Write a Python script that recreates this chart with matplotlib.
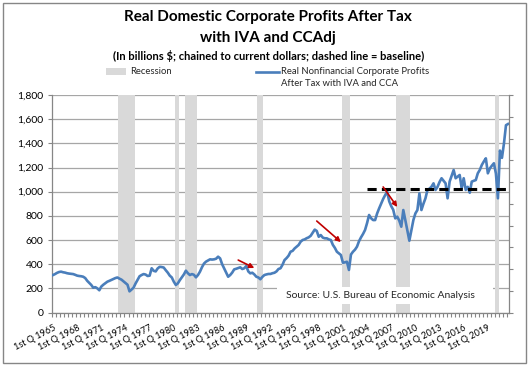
import numpy as np
import matplotlib
matplotlib.use("Agg")
import matplotlib.pyplot as plt
from matplotlib.patches import Rectangle
from matplotlib.lines import Line2D

plt.rcParams['font.family'] = ['Lato', 'DejaVu Sans']

# quarterly data, 1965 Q1 .. 2021 Q3 (billions $, chained)
start_year = 1965
profits = [
    310, 318, 328, 335,      # 1965
    338, 333, 330, 325,      # 1966
    322, 320, 318, 312,      # 1967
    305, 302, 300, 296,      # 1968
    285, 262, 245, 228,      # 1969
    205, 210, 200, 184,      # 1970
    215, 230, 242, 255,      # 1971
    262, 270, 278, 285,      # 1972
    290, 280, 272, 258,      # 1973
    245, 230, 175, 190,      # 1974
    205, 240, 270, 300,      # 1975
    310, 318, 314, 302,      # 1976
    305, 366, 345, 340,      # 1977
    365, 378, 376, 372,      # 1978
    350, 330, 305, 290,      # 1979
    255, 228, 241, 268,      # 1980
    291, 315, 346, 325,      # 1981
    310, 318, 312, 291,      # 1982
    310, 338, 375, 405,      # 1983
    421, 430, 440, 438,      # 1984
    440, 445, 462, 448,      # 1985
    400, 366, 330, 296,      # 1986
    310, 330, 357, 362,      # 1987
    368, 374, 360, 366,      # 1988
    385, 340, 324, 329,      # 1989
    315, 296, 290, 275,      # 1990
    295, 310, 315, 319,      # 1991
    319, 325, 329, 340,      # 1992
    360, 366, 395, 434,      # 1993
    450, 470, 503, 510,      # 1994
    530, 545, 559, 586,      # 1995
    600, 605, 615, 622,      # 1996
    635, 660, 686, 675,      # 1997
    627, 641, 620, 614,      # 1998
    614, 605, 600, 560,      # 1999
    535, 503, 490, 476,      # 2000
    412, 415, 420, 352,      # 2001
    480, 503, 520, 545,      # 2002
    590, 622, 650, 683,      # 2003
    740, 807, 780, 765,      # 2004
    765, 820, 862, 900,      # 2005
    940, 972, 1000, 920,     # 2006
    880, 850, 779, 793,      # 2007
    760, 710, 848, 765,      # 2008
    680, 594, 680, 765,      # 2009
    820, 848, 986, 848,      # 2010
    900, 945, 1014, 1025,    # 2011
    1041, 1069, 1014, 1040,  # 2012
    1080, 1111, 1090, 1069,  # 2013
    945, 1083, 1130, 1179,   # 2014
    1111, 1125, 1138, 1028,  # 2015
    1111, 1014, 1040, 991,   # 2016
    1083, 1090, 1096, 1152,  # 2017
    1180, 1221, 1250, 1276,  # 2018
    1152, 1193, 1215, 1235,  # 2019
    1150, 945, 1340, 1280,   # 2020
    1400, 1550, 1560,        # 2021
]

# recession shading (first quarter, last quarter)
recessions = [((1973, 2), (1975, 1)), ((1980, 2), (1980, 3)),
              ((1981, 3), (1982, 4)), ((1990, 3), (1991, 1)),
              ((2001, 1), (2001, 4)), ((2007, 4), (2009, 2)),
              ((2020, 1), (2020, 2))]

baseline_value = 1020
baseline_start = (2004, 1)

# red arrows: (from quarter, from value) -> (to quarter, to value)
arrows = [(((1988, 1), 434), ((1990, 1), 368)),
          (((1997, 4), 757), ((2000, 4), 583)),
          (((2006, 1), 1039), ((2007, 4), 873))]


def qidx(yq):
    return (yq[0] - start_year) * 4 + yq[1] - 1


n = len(profits)
x = np.arange(n)

fig = plt.figure(figsize=(5.3, 3.65), dpi=100)
ax = fig.add_axes([52 / 530, 1 - 312.5 / 365, 457 / 530, 217.5 / 365])

for s, e in recessions:
    ax.axvspan(qidx(s) - 0.5, qidx(e) + 0.5, color='#d9d9d9', lw=0, zorder=1)

ax.plot(x, profits, color='#4a7ebb', lw=1.9, zorder=4)

bx = np.arange(qidx(baseline_start), n)
ax.plot(bx, [baseline_value] * len(bx), color='black', lw=2.2,
        dashes=(3, 1.7), dash_capstyle='butt', zorder=5)

for (q0, v0), (q1, v1) in arrows:
    ax.annotate('', xy=(qidx(q1), v1), xytext=(qidx(q0), v0),
                arrowprops=dict(arrowstyle='-|>', color='#c00000', lw=1.2,
                                mutation_scale=7, shrinkA=0, shrinkB=0),
                zorder=6)

ax.set_xlim(-0.5, n - 0.5)
ax.set_ylim(0, 1800)
ax.set_yticks(range(0, 1801, 200))
ax.set_yticklabels([f'{v:,}' for v in range(0, 1801, 200)])
ax.yaxis.grid(True, color='#a6a6a6', lw=0.9, zorder=0)
ax.set_axisbelow(True)

label_pos = list(range(0, n, 12))
ax.set_xticks(label_pos)
ax.set_xticklabels([f'1st Q {start_year + p // 4}' for p in label_pos],
                   rotation=27, ha='right', rotation_mode='anchor')
ax.set_xticks(np.arange(-0.5, n, 2), minor=True)
ax.tick_params(axis='x', which='major', length=0, pad=8, labelsize=6.6)
ax.tick_params(axis='x', which='minor', length=3, color='#868686', width=0.8)
ax.tick_params(axis='y', length=3, color='#868686', width=0.8, labelsize=7.5,
               pad=3)

for side in ['top', 'right']:
    ax.spines[side].set_visible(False)
for side in ['left', 'bottom']:
    ax.spines[side].set_color('#868686')
    ax.spines[side].set_linewidth(0.9)

ax2 = ax.twinx()
ax2.set_ylim(0, 1)
ax2.set_yticks(np.arange(0, 1.01, 0.1))
ax2.set_yticklabels([])
ax2.tick_params(axis='y', length=3, color='#868686', width=0.8)
for side in ['top', 'left', 'bottom']:
    ax2.spines[side].set_visible(False)
ax2.spines['right'].set_color('#868686')
ax2.spines['right'].set_linewidth(0.9)

# source box (white, hides grid and shading behind it)
ax.add_patch(Rectangle((0.492, 0.039), 0.474, 0.078, transform=ax.transAxes,
                       facecolor='white', edgecolor='none', zorder=3))
ax.text(0.718, 0.078, 'Source: U.S. Bureau of Economic Analysis',
        transform=ax.transAxes, ha='center', va='center', fontsize=7.5,
        color='#262626', zorder=7)

# titles
fig.text(0.506, 1 - 17 / 365, 'Real Domestic Corporate Profits After Tax',
         ha='center', va='center', fontsize=11, fontweight='bold')
fig.text(0.506, 1 - 38 / 365, 'with IVA and CCAdj',
         ha='center', va='center', fontsize=11, fontweight='bold')
fig.text(0.506, 1 - 56 / 365,
         '(In billions $; chained to current dollars; dashed line = baseline)',
         ha='center', va='center', fontsize=8, fontweight='bold')

# legend
fig.patches.append(Rectangle((106 / 530, 1 - 75 / 365), 20 / 530, 7 / 365,
                             transform=fig.transFigure, facecolor='#d9d9d9',
                             edgecolor='none'))
fig.text(130 / 530, 1 - 71.5 / 365, 'Recession', ha='left', va='center',
         fontsize=6.8, color='#262626')
fig.lines.append(Line2D([256 / 530, 279 / 530], [1 - 71.5 / 365, 1 - 71.5 / 365],
                        transform=fig.transFigure, color='#4a7ebb', lw=1.9))
fig.text(281 / 530, 1 - 71.5 / 365, 'Real Nonfinancial Corporate Profits',
         ha='left', va='center', fontsize=6.8, color='#262626')
fig.text(281 / 530, 1 - 84 / 365, 'After Tax with IVA and CCA',
         ha='left', va='center', fontsize=6.8, color='#262626')

# chart border
fig.patches.append(Rectangle((2.5 / 530, 2.5 / 365), 523 / 530, 359.5 / 365,
                             transform=fig.transFigure, facecolor='none',
                             edgecolor='#868686', lw=1))

plt.savefig('out.png', dpi=100)
